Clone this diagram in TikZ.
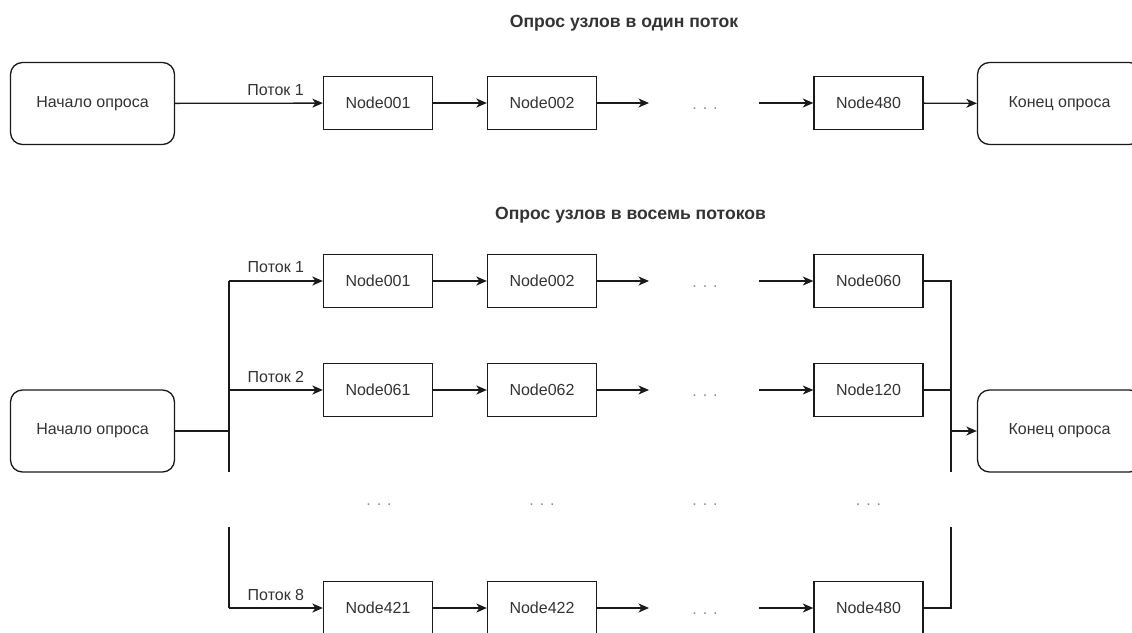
\documentclass[tikz,border=0pt]{standalone}
\usepackage{fontspec}
\setmainfont{Liberation Sans}
\usetikzlibrary{arrows.meta}
\definecolor{txt}{HTML}{333333}
\definecolor{ln}{HTML}{1A1A1A}
\definecolor{dotc}{HTML}{8C8C8C}
\tikzset{
  box/.style={draw=ln, line width=1.3pt, minimum width=109pt, minimum height=53pt, inner sep=0pt,
    font=\fontsize{16}{19}\selectfont, text=txt},
  rbox/.style={box, rounded corners=12pt, minimum width=164pt, minimum height=82pt},
  conn/.style={draw=ln, line width=1.3pt},
  arr/.style={conn, -{Stealth[length=10.5pt, width=9pt, inset=3pt]}},
  lbl/.style={font=\fontsize{16}{19}\selectfont, text=txt, inner sep=0pt},
  ttl/.style={font=\bfseries\fontsize{17.6}{21}\selectfont, text=txt, inner sep=0pt},
  dts/.style={font=\fontsize{16}{19}\selectfont, text=dotc, inner sep=0pt, anchor=base},
}
\begin{document}
\begin{tikzpicture}[x=1pt, y=-1pt]
\useasboundingbox (0,0) rectangle (1132,632);
% ---------- titles
\node[ttl] (t1) at (624,23) {Опрос узлов в один поток};
\node[ttl] (t2) at (630.5,215) {Опрос узлов в восемь потоков};
% ---------- single thread
\node[rbox] (s1) at (92.5,103.5) {Начало опроса};
\node[box] (a1) at (378,103) {Node001};
\node[box] (a2) at (542,103) {Node002};
\node[dts] (ad) at (705,109.5) {. . .};
\coordinate (ao) at (649,103);
\coordinate (ai) at (759,103);
\node[box] (a3) at (868.5,103) {Node480};
\node[rbox] (e1) at (1059.5,103.5) {Конец опроса};
\draw[arr] (s1) -- node[lbl, pos=0.68, yshift=13pt] {Поток 1} (a1);
\draw[arr] (a1) -- (a2);
\draw[arr] (a2) -- (ao);
\draw[arr] (ai) -- (a3);
\draw[arr] (a3) -- (e1);
% ---------- eight threads
\node[rbox] (s2) at (92.5,431) {Начало опроса};
\node[rbox] (e2) at (1059.5,431) {Конец опроса};
% row 1
\node[box] (b11) at (378,281) {Node001};
\node[box] (b12) at (542,281) {Node002};
\node[dts] (b1d) at (705,287.5) {. . .};
\coordinate (b1o) at (649,281);
\coordinate (b1i) at (759,281);
\node[box] (b13) at (868.5,281) {Node060};
% row 2
\node[box] (b21) at (378,390) {Node061};
\node[box] (b22) at (542,390) {Node062};
\node[dts] (b2d) at (705,396.5) {. . .};
\coordinate (b2o) at (649,390);
\coordinate (b2i) at (759,390);
\node[box] (b23) at (868.5,390) {Node120};
% middle dots
\node[dts] (m1) at (379,505) {. . .};
\node[dts] (m2) at (542,505) {. . .};
\node[dts] (m3) at (705,505) {. . .};
\node[dts] (m4) at (868.5,505) {. . .};
% row 8
\node[box] (b81) at (378,608) {Node421};
\node[box] (b82) at (542,608) {Node422};
\node[dts] (b8d) at (705,614) {. . .};
\coordinate (b8o) at (649,608);
\coordinate (b8i) at (759,608);
\node[box] (b83) at (868.5,608) {Node480};
% left trunk
\coordinate (L1) at (229,281);
\coordinate (L2) at (229,390);
\coordinate (Lj) at (229,431);
\coordinate (Lg1) at (229,472);
\coordinate (Lg2) at (229,527);
\coordinate (L8) at (229,608);
\draw[conn] (s2) -- (Lj);
\draw[conn] (L1) -- (Lg1);
\draw[conn] (Lg2) -- (L8);
\draw[arr] (L1) -- node[lbl, pos=0.5, yshift=14pt] {Поток 1} (b11);
\draw[arr] (L2) -- node[lbl, pos=0.5, yshift=13pt] {Поток 2} (b21);
\draw[arr] (L8) -- node[lbl, pos=0.5, yshift=13pt] {Поток 8} (b81);
% chains
\draw[arr] (b11) -- (b12);
\draw[arr] (b12) -- (b1o);
\draw[arr] (b1i) -- (b13);
\draw[arr] (b21) -- (b22);
\draw[arr] (b22) -- (b2o);
\draw[arr] (b2i) -- (b23);
\draw[arr] (b81) -- (b82);
\draw[arr] (b82) -- (b8o);
\draw[arr] (b8i) -- (b83);
% right trunk
\coordinate (R1) at (951,281);
\coordinate (R2) at (951,390);
\coordinate (Rj) at (951,431);
\coordinate (Rg1) at (951,472);
\coordinate (Rg2) at (951,527);
\coordinate (R8) at (951,608);
\draw[conn] (b13) -- (R1) -- (Rg1);
\draw[conn] (b23) -- (R2);
\draw[conn] (b83) -- (R8) -- (Rg2);
\draw[arr] (Rj) -- (e2);
\end{tikzpicture}
\end{document}
